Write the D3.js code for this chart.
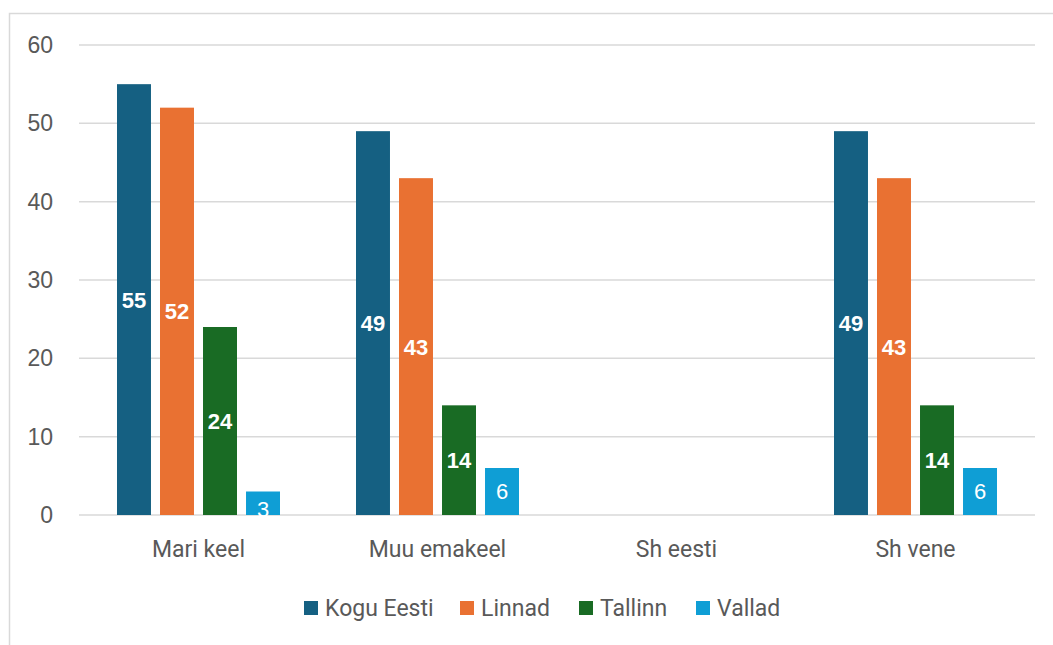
<!DOCTYPE html>
<html>
<head>
<meta charset="utf-8">
<script src="https://cdn.jsdelivr.net/npm/d3@7"></script>
<style>
  body { margin: 0; background: #fff; }
  svg { display: block; }
</style>
</head>
<body>
<svg width="1053" height="645"></svg>
<script>
const categories = ["Mari keel", "Muu emakeel", "Sh eesti", "Sh vene"]
const seriesNames = ["Kogu Eesti", "Linnad", "Tallinn", "Vallad"]
const kogu = [55, 49, null, 49]
const linnad = [52, 43, null, 43]
const tallinn = [24, 14, null, 14]
const vallad = [3, 6, null, 6]
const yTicks = [0, 10, 20, 30, 40, 50, 60]
const colors = ["#156082", "#E97132", "#196B24", "#0F9ED5"]

const seriesValues = [kogu, linnad, tallinn, vallad]
const width = 1053
const height = 645
const margin = { top: 45, bottom: 130, left: 79, right: 18 }

const svg = d3.select("svg")

// chart frame (right/bottom edges run off the page)
svg.append("rect")
  .attr("x", 9.5).attr("y", 13.5)
  .attr("width", 1060).attr("height", 650)
  .attr("fill", "none").attr("stroke", "#d9d9d9").attr("stroke-width", 1.5)

const x = d3.scaleBand().domain(categories)
  .range([margin.left, width - margin.right])
const xs = d3.scaleBand().domain(seriesNames)
  .range([x.bandwidth() * 0.159, x.bandwidth() * 0.841])
  .paddingInner(0.21)
const y = d3.scaleLinear().domain([0, 60])
  .range([height - margin.bottom, margin.top])

// gridlines
svg.append("g").selectAll("line")
  .data(yTicks)
  .join("line")
  .attr("x1", margin.left).attr("x2", width - margin.right)
  .attr("y1", d => y(d)).attr("y2", d => y(d))
  .attr("stroke", "#d9d9d9").attr("stroke-width", 1.5)

// y labels
svg.append("g").selectAll("text")
  .data(yTicks)
  .join("text")
  .attr("x", 53).attr("y", d => y(d))
  .attr("dy", "0.35em")
  .attr("text-anchor", "end")
  .attr("fill", "#595959")
  .style("font", "23px 'Liberation Sans', Arial, sans-serif")
  .text(d => d)

// bars
const rows = []
categories.forEach(function (c, i) {
  seriesNames.forEach(function (s, j) {
    if (seriesValues[j][i] != null) rows.push({ cat: c, series: s, value: seriesValues[j][i], color: colors[j] })
  })
})

svg.append("g").selectAll("rect")
  .data(rows)
  .join("rect")
  .attr("x", d => x(d.cat) + xs(d.series))
  .attr("width", xs.bandwidth())
  .attr("y", d => y(d.value))
  .attr("height", d => y(0) - y(d.value))
  .attr("fill", d => d.color)

// value labels, centred in bar (pushed down a bit when the bar is shorter than the text)
svg.append("g").selectAll("text")
  .data(rows)
  .join("text")
  .attr("x", d => x(d.cat) + xs(d.series) + xs.bandwidth() / 2)
  .attr("y", function (d) {
    const h = y(0) - y(d.value)
    return h < 30 ? y(0) - 6 : (y(d.value) + y(0)) / 2
  })
  .attr("dy", "0.36em")
  .attr("text-anchor", "middle")
  .attr("fill", "#fff")
  .style("font", d => (d.series === "Vallad" ? "normal" : "bold") + " 22px 'Liberation Sans', Arial, sans-serif")
  .text(d => d.value)

// category labels
svg.append("g").selectAll("text")
  .data(categories)
  .join("text")
  .attr("x", d => x(d) + x.bandwidth() / 2)
  .attr("y", 549)
  .attr("dy", "0.35em")
  .attr("text-anchor", "middle")
  .attr("fill", "#595959")
  .style("font", "23px Roboto, sans-serif")
  .text(d => d)

// legend
const legendX = [304, 460, 579, 696]
const legend = svg.append("g").selectAll("g")
  .data(seriesNames)
  .join("g")
  .attr("transform", (d, i) => "translate(" + legendX[i] + ",608)")
legend.append("rect")
  .attr("x", 0).attr("y", -7).attr("width", 14).attr("height", 14)
  .attr("fill", (d, i) => colors[i])
legend.append("text")
  .attr("x", 21).attr("dy", "0.35em")
  .attr("fill", "#595959")
  .style("font", "23px Roboto, sans-serif")
  .text(d => d)
</script>
</body>
</html>
